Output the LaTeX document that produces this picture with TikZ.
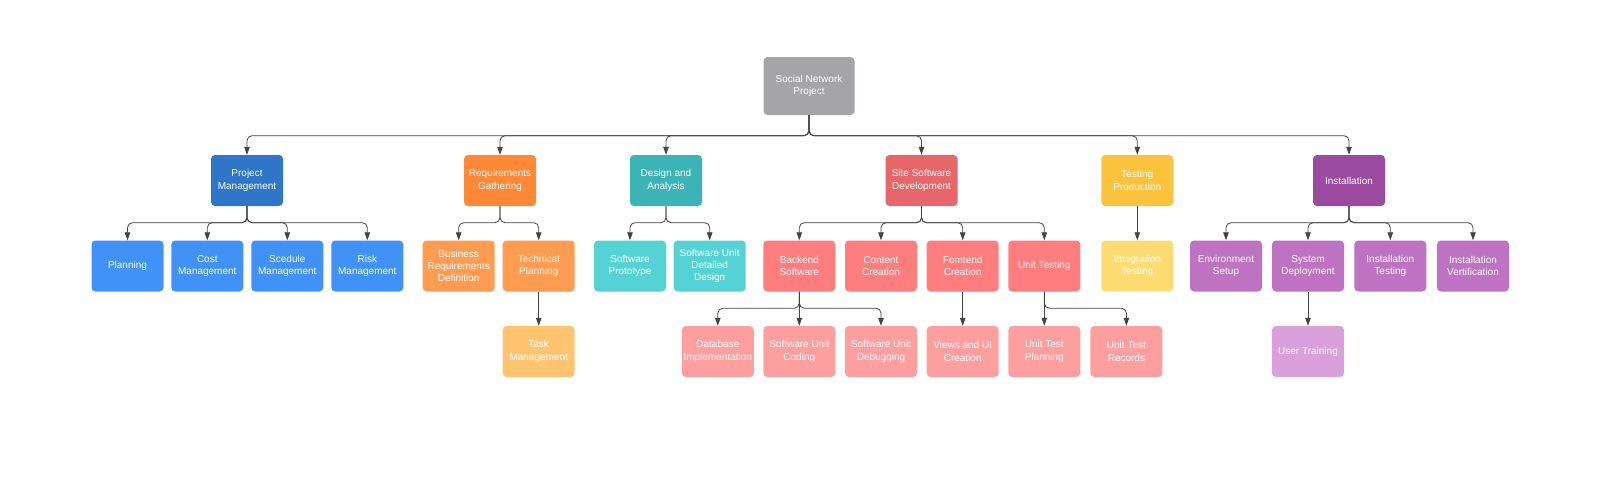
\documentclass[tikz,border=0pt]{standalone}
\usepackage{fontspec}
\setmainfont{Liberation Sans}
\usetikzlibrary{arrows.meta}
\definecolor{rootgray}{HTML}{A4A4A9}
\definecolor{pmblue}{HTML}{2F75C8}
\definecolor{lightblue}{HTML}{4092F6}
\definecolor{rgorange}{HTML}{FD8836}
\definecolor{lightorange}{HTML}{FE9C52}
\definecolor{paleorange}{HTML}{FFC470}
\definecolor{dateal}{HTML}{3CB4B5}
\definecolor{lightteal}{HTML}{55D3D4}
\definecolor{ssdred}{HTML}{E6676A}
\definecolor{lightred}{HTML}{FE7E7F}
\definecolor{palered}{HTML}{FD9F9F}
\definecolor{tpyellow}{HTML}{FBC23C}
\definecolor{lightyellow}{HTML}{FEDC72}
\definecolor{instpurple}{HTML}{9A4A9F}
\definecolor{lightpurple}{HTML}{BD72C2}
\definecolor{palepurple}{HTML}{DAA0DC}
\definecolor{linegray}{HTML}{444444}
\begin{document}
\begin{tikzpicture}[x=1pt,y=-1pt,
    box/.style={rectangle,rounded corners=4pt,minimum width=72pt,minimum height=51pt,
        inner sep=1pt,align=center,text=white,font=\fontsize{10}{12.3}\selectfont},
    conn/.style={draw=linegray,line width=0.8pt,rounded corners=5pt,-{Triangle[length=8pt,width=5.5pt]}}]
    \useasboundingbox (0,0) rectangle (1600,483);
    % top
    \node[box,fill=rootgray,minimum width=91pt,minimum height=58pt] (root) at (809,86) {Social Network\\Project};
    % level 1
    \node[box,fill=pmblue] (pm) at (247,180.5) {Project\\Management};
    \node[box,fill=rgorange] (rg) at (500,180.5) {Requirements\\Gathering};
    \node[box,fill=dateal] (da) at (666,180.5) {Design and\\Analysis};
    \node[box,fill=ssdred] (ssd) at (921.5,180.5) {Site Software\\Development};
    \node[box,fill=tpyellow] (tp) at (1137.3,180.5) {Testing\\Production};
    \node[box,fill=instpurple] (inst) at (1349,180.5) {Installation};
    % level 2
    \node[box,fill=lightblue] (plan) at (127.5,266) {Planning};
    \node[box,fill=lightblue] (cost) at (207.3,266) {Cost\\Management};
    \node[box,fill=lightblue] (sched) at (287.3,266) {Scedule\\Management};
    \node[box,fill=lightblue] (risk) at (367.3,266) {Risk\\Management};
    \node[box,fill=lightorange] (brd) at (458.7,266) {Business\\Requirements\\Definition};
    \node[box,fill=lightorange] (tech) at (538.7,266) {Technical\\Planning};
    \node[box,fill=lightteal] (proto) at (630,266) {Software\\Prototype};
    \node[box,fill=lightteal] (sudd) at (709.7,266) {Software Unit\\Detailed\\Design};
    \node[box,fill=lightred] (back) at (799.3,266) {Backend\\Software};
    \node[box,fill=lightred] (cont) at (881,266) {Content\\Creation};
    \node[box,fill=lightred] (front) at (962.7,266) {Fomtend\\Creation};
    \node[box,fill=lightred] (ut) at (1044.3,266) {Unit Testing};
    \node[box,fill=lightyellow] (integ) at (1137.3,266) {Integration\\Testing};
    \node[box,fill=lightpurple] (env) at (1226,266) {Environment\\Setup};
    \node[box,fill=lightpurple] (sd) at (1308,266) {System\\Deployment};
    \node[box,fill=lightpurple] (itest) at (1390.3,266) {Installation\\Testing};
    \node[box,fill=lightpurple] (iver) at (1473,266) {Installation\\Vertification};
    % level 3
    \node[box,fill=paleorange] (task) at (538.7,351.5) {Task\\Management};
    \node[box,fill=palered] (db) at (717.8,351.5) {Database\\Implementation};
    \node[box,fill=palered] (suc) at (799.3,351.5) {Software Unit\\Coding};
    \node[box,fill=palered] (sud) at (881,351.5) {Software Unit\\Debugging};
    \node[box,fill=palered] (views) at (962.7,351.5) {Views and UI\\Creation};
    \node[box,fill=palered] (utp) at (1044.3,351.5) {Unit Test\\Planning};
    \node[box,fill=palered] (utr) at (1126.4,351.5) {Unit Test\\Records};
    \node[box,fill=palepurple] (train) at (1308,351.5) {User Training};
    % connectors
    \foreach \c in {pm,rg,da,ssd,tp,inst}
        \draw[conn] (root.south) -- ++(0,20.5) -| (\c.north);
    \foreach \c in {plan,cost,sched,risk}
        \draw[conn] (pm.south) -- ++(0,16.5) -| (\c.north);
    \foreach \c in {brd,tech}
        \draw[conn] (rg.south) -- ++(0,16.5) -| (\c.north);
    \foreach \c in {proto,sudd}
        \draw[conn] (da.south) -- ++(0,16.5) -| (\c.north);
    \foreach \c in {back,cont,front,ut}
        \draw[conn] (ssd.south) -- ++(0,16.5) -| (\c.north);
    \foreach \c in {env,sd,itest,iver}
        \draw[conn] (inst.south) -- ++(0,16.5) -| (\c.north);
    \foreach \c in {db,sud}
        \draw[conn] (back.south) -- ++(0,16.5) -| (\c.north);
    \draw[conn] (ut.south) -- ++(0,16.5) -| (utr.north);
    \draw[conn] (tp) -- (integ);
    \draw[conn] (tech) -- (task);
    \draw[conn] (back) -- (suc);
    \draw[conn] (front) -- (views);
    \draw[conn] (ut) -- (utp);
    \draw[conn] (sd) -- (train);
\end{tikzpicture}
\end{document}
